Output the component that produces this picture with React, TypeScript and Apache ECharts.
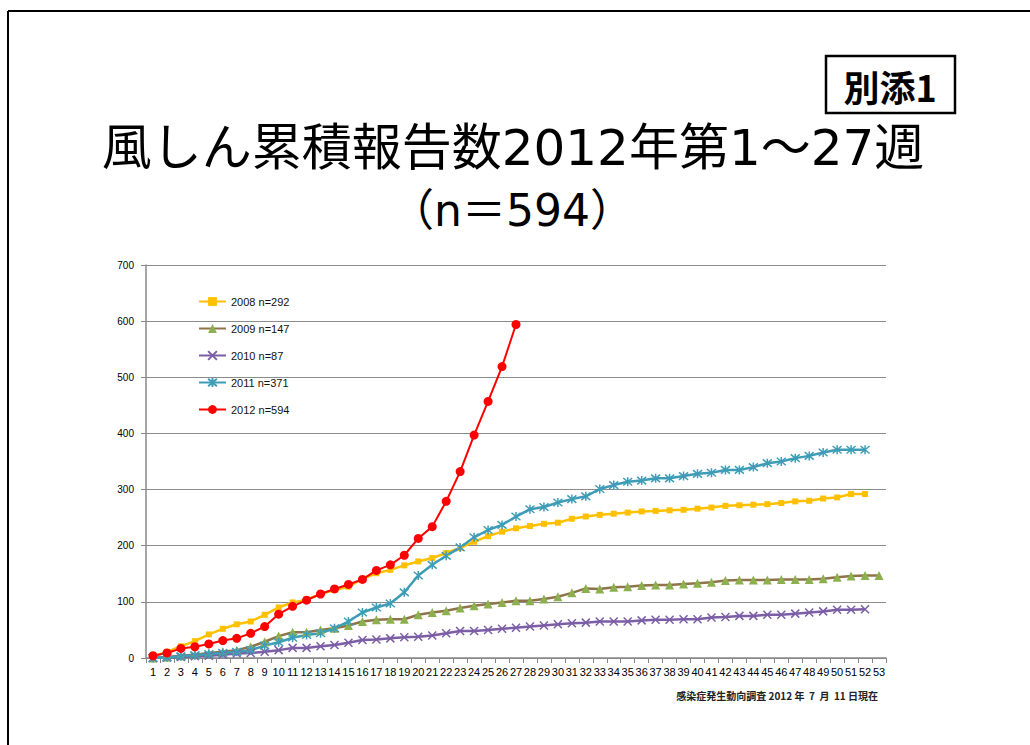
import React, { useEffect, useRef } from "react";
import * as echarts from "echarts";

const weeks = [
  "1","2","3","4","5","6","7","8","9","10","11","12","13","14","15","16","17","18","19","20",
  "21","22","23","24","25","26","27","28","29","30","31","32","33","34","35","36","37","38","39","40",
  "41","42","43","44","45","46","47","48","49","50","51","52","53",
];

const s2008 = [3, 11, 21, 30, 42, 52, 60, 65, 77, 90, 99, 104, 114, 121, 127, 141, 151, 157, 165, 172,
  178, 187, 196, 207, 217, 225, 231, 235, 239, 241, 248, 252, 255, 257, 259, 261, 262, 263, 264, 266,
  268, 271, 272, 273, 274, 276, 279, 280, 284, 286, 292, 292];
const s2009 = [0, 2, 4, 6, 9, 11, 14, 20, 29, 39, 46, 46, 50, 53, 58, 65, 68, 69, 69, 77,
  81, 84, 89, 93, 96, 99, 102, 102, 105, 109, 116, 124, 123, 126, 127, 129, 130, 130, 132, 133,
  135, 138, 139, 139, 139, 140, 140, 140, 141, 144, 146, 147, 147];
const s2010 = [0, 1, 2, 3, 4, 6, 8, 9, 11, 14, 18, 18, 21, 23, 27, 32, 33, 35, 37, 38,
  40, 44, 48, 48, 50, 52, 54, 56, 58, 60, 62, 63, 65, 65, 65, 67, 68, 68, 69, 69,
  72, 73, 75, 75, 77, 77, 79, 81, 83, 86, 86, 87];
const s2011 = [0, 1, 3, 5, 7, 9, 11, 14, 22, 28, 36, 41, 44, 53, 65, 81, 90, 97, 117, 147,
  166, 182, 197, 215, 228, 237, 252, 265, 269, 277, 283, 288, 301, 308, 314, 316, 320, 320, 324, 328,
  330, 335, 335, 340, 347, 350, 356, 360, 366, 371, 371, 371];
const s2012 = [4, 9, 17, 20, 25, 31, 35, 44, 56, 78, 92, 103, 114, 123, 131, 140, 156, 166, 183, 213,
  234, 279, 332, 397, 457, 519, 594];

const seriesNames = ["2008 n=292", "2009 n=147", "2010 n=87", "2011 n=371", "2012 n=594"];
const yTicks = { min: 0, max: 700, interval: 100 };

const titleLine1 = "風しん累積報告数2012年第1～27週";
const titleLine2 = "（n＝594）";
const badgeText = "別添1";
const footerText = "感染症発生動向調査 2012 年  7  月  11 日現在";

const X_PATH = "path://M0,0 L10,10 M10,0 L0,10";
const STAR_PATH = "path://M0,0 L10,10 M10,0 L0,10 M5,-1 L5,11";

export default function App() {
  const ref = useRef<HTMLDivElement>(null);
  useEffect(() => {
    const el = ref.current;
    if (!el) return;
    const chart = echarts.init(el, null, { renderer: "svg" });
    const font = "'Liberation Sans', Arial, sans-serif";
    chart.setOption({
      animation: false,
      backgroundColor: "#ffffff",
      textStyle: { fontFamily: font },
      grid: { left: 146, right: 144, top: 265, bottom: 87, containLabel: false },
      legend: {
        orient: "vertical",
        left: 193,
        top: 291,
        itemWidth: 27,
        itemHeight: 11,
        itemGap: 16,
        textStyle: { fontSize: 11, color: "#111", fontFamily: font },
        data: seriesNames,
      },
      xAxis: {
        type: "category",
        data: weeks,
        boundaryGap: true,
        axisLine: { show: true, lineStyle: { color: "#888", width: 1.5 } },
        axisTick: { show: true, length: 5, alignWithLabel: false, interval: 0, lineStyle: { color: "#888" } },
        axisLabel: { interval: 0, fontSize: 11, color: "#000", margin: 8, fontFamily: font },
        splitLine: { show: false },
      },
      yAxis: {
        type: "value",
        min: yTicks.min,
        max: yTicks.max,
        interval: yTicks.interval,
        axisLine: { show: true, lineStyle: { color: "#888", width: 1.5 } },
        axisTick: { show: true, length: 5, lineStyle: { color: "#888" } },
        axisLabel: { fontSize: 10, color: "#000", margin: 12, fontFamily: font },
        splitLine: { show: true, lineStyle: { color: "#8c8c8c", width: 1.2 } },
      },
      series: [
        {
          name: seriesNames[0],
          type: "line",
          data: s2008,
          symbol: "rect",
          symbolSize: 6,
          lineStyle: { color: "#FFC000", width: 2.5 },
          itemStyle: { color: "#FFC000" },
        },
        {
          name: seriesNames[1],
          type: "line",
          data: s2009,
          symbol: "triangle",
          symbolSize: 9,
          lineStyle: { color: "#8f744a", width: 2.5 },
          itemStyle: { color: "#8DB04F" },
        },
        {
          name: seriesNames[2],
          type: "line",
          data: s2010,
          symbol: X_PATH,
          symbolSize: 8,
          lineStyle: { color: "#7B5EA6", width: 2.5 },
          itemStyle: { color: "#7B5EA6", borderColor: "#7B5EA6", borderWidth: 1.5 },
        },
        {
          name: seriesNames[3],
          type: "line",
          data: s2011,
          symbol: STAR_PATH,
          symbolSize: 9,
          lineStyle: { color: "#3E9DB6", width: 2.5 },
          itemStyle: { color: "#3E9DB6", borderColor: "#3E9DB6", borderWidth: 1.5 },
        },
        {
          name: seriesNames[4],
          type: "line",
          data: s2012,
          symbol: "circle",
          symbolSize: 9,
          lineStyle: { color: "#FF0000", width: 2 },
          itemStyle: { color: "#FF0000" },
        },
      ],
      graphic: [
        { type: "line", shape: { x1: 8, y1: 11, x2: 1030, y2: 11 }, style: { stroke: "#000", lineWidth: 2 } },
        { type: "line", shape: { x1: 8, y1: 11, x2: 8, y2: 745 }, style: { stroke: "#000", lineWidth: 2 } },
        {
          type: "rect",
          shape: { x: 826, y: 56, width: 129, height: 57 },
          style: { fill: "#fff", stroke: "#000", lineWidth: 2.5 },
        },
        {
          type: "text",
          x: 890,
          y: 86,
          style: {
            text: badgeText,
            fontSize: 36,
            fontWeight: "bold",
            fontFamily: "'Noto Sans CJK JP', sans-serif",
            fill: "#000",
            textAlign: "center",
            textVerticalAlign: "middle",
          },
        },
        {
          type: "text",
          x: 513,
          y: 148,
          style: {
            text: titleLine1,
            fontSize: 50,
            fontFamily: "'DejaVu Sans', 'Noto Sans CJK JP', sans-serif",
            fill: "#000",
            textAlign: "center",
            textVerticalAlign: "middle",
          },
        },
        {
          type: "text",
          x: 512,
          y: 210,
          style: {
            text: titleLine2,
            fontSize: 44,
            fontFamily: "'DejaVu Sans', 'Noto Sans CJK JP', sans-serif",
            fill: "#000",
            textAlign: "center",
            textVerticalAlign: "middle",
          },
        },
        {
          type: "text",
          x: 878,
          y: 695,
          style: {
            text: footerText,
            fontSize: 10,
            fontWeight: "bold",
            fontFamily: "'Noto Sans CJK JP', sans-serif",
            fill: "#222",
            textAlign: "right",
            textVerticalAlign: "middle",
          },
        },
      ],
    });
    return () => chart.dispose();
  }, []);
  return (
    <div
      ref={ref}
      style={{ position: "fixed", left: 0, top: 0, width: 1030, height: 745, background: "#fff" }}
    />
  );
}
